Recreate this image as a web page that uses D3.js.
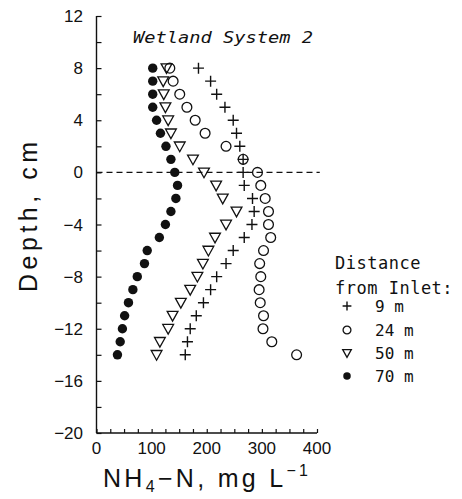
<!DOCTYPE html>
<html>
<head>
<meta charset="utf-8">
<script src="https://cdn.jsdelivr.net/npm/d3@7"></script>
<style>
  body { margin: 0; background: #fff; }
  svg { display: block; }
</style>
</head>
<body>
<div id="grafico"></div>
<script>
// profundidades (cm) y NH4-N (mg/L)
const profundidades = [8, 7, 6, 5, 4, 3, 2, 1, 0, -1, -2, -3, -4, -5, -6, -7, -8, -9, -10, -11, -12, -13, -14];
const dist9 = [185, 207, 218, 233, 248, 254, 260, 266, 266, 268, 283, 286, 282, 268, 248, 235, 218, 207, 194, 181, 170, 165, 161];
const dist24 = [133, 139, 151, 164, 179, 197, 235, 266, 292, 298, 306, 312, 312, 316, 303, 296, 298, 295, 297, 303, 302, 318, 363];
const dist50 = [127, 121, 122, 125, 130, 135, 151, 175, 195, 217, 229, 254, 235, 215, 203, 193, 183, 170, 153, 138, 130, 115, 109];
const dist70 = [102, 102, 102, 102, 109, 116, 126, 135, 142, 147, 144, 135, 125, 114, 92, 87, 74, 66, 58, 51, 47, 43, 38];

const ticksX = [0, 100, 200, 300, 400];
const ticksY = [12, 8, 4, 0, -4, -8, -12, -16, -20];
const leyenda = ["9 m", "24 m", "50 m", "70 m"];
const simbolos = ["cruz", "circulo", "triangulo", "punto"];

const width = 462, height = 499;
const svg = d3.select("#grafico").append("svg")
  .attr("width", width)
  .attr("height", height);

const x = d3.scaleLinear().domain([0, 400]).range([96.5, 317]);
const y = d3.scaleLinear().domain([-20, 12]).range([433, 16]);

const tinta = "#111";

// ejes (ticks hacia adentro)
const ejeY = d3.axisLeft(y).tickValues(d3.range(-20, 13, 2)).tickSize(-5).tickFormat("");
svg.append("g").attr("transform", `translate(${x(0)},0)`).call(ejeY);
const ejeX = d3.axisBottom(x).tickValues(d3.range(0, 401, 25)).tickSize(-4).tickFormat("");
svg.append("g").attr("transform", `translate(0,${y(-20)})`).call(ejeX);
svg.selectAll(".domain").remove();
svg.selectAll(".tick line").attr("stroke", tinta).attr("stroke-width", 1.2);

svg.append("line")
  .attr("x1", x(0)).attr("x2", x(0))
  .attr("y1", y(12)).attr("y2", y(-20))
  .attr("stroke", tinta).attr("stroke-width", 1.4);
svg.append("line")
  .attr("x1", x(0)).attr("x2", x(400))
  .attr("y1", y(-20)).attr("y2", y(-20))
  .attr("stroke", tinta).attr("stroke-width", 1.4);

svg.selectAll(".etiquetaY")
  .data(ticksY)
  .enter()
  .append("text")
  .attr("x", 83)
  .attr("y", d => y(d) + 6)
  .attr("text-anchor", "end")
  .style("font-family", "'Liberation Sans', Arial, sans-serif")
  .style("font-size", "17px")
  .attr("fill", tinta)
  .text(d => d < 0 ? "\u2212" + Math.abs(d) : d);

svg.selectAll(".etiquetaX")
  .data(ticksX)
  .enter()
  .append("text")
  .attr("x", d => x(d))
  .attr("y", 454)
  .attr("text-anchor", "middle")
  .style("font-family", "'Liberation Sans', Arial, sans-serif")
  .style("font-size", "17px")
  .attr("fill", tinta)
  .text(d => d);

// linea de referencia en 0 cm
svg.append("line")
  .attr("x1", x(0)).attr("x2", x(405))
  .attr("y1", y(0)).attr("y2", y(0))
  .attr("stroke", tinta)
  .attr("stroke-width", 1.2)
  .attr("stroke-dasharray", "6,4");

// titulos
svg.append("text")
  .attr("x", 133)
  .attr("y", 43)
  .attr("textLength", 180)
  .attr("lengthAdjust", "spacingAndGlyphs")
  .style("font-family", "'DejaVu Sans Mono', monospace")
  .style("font-style", "italic")
  .style("font-size", "16px")
  .attr("fill", tinta)
  .text("Wetland System 2");

svg.append("text")
  .attr("transform", "translate(37,217) rotate(-90)")
  .attr("text-anchor", "middle")
  .attr("textLength", 150)
  .style("font-family", "'Liberation Sans', Arial, sans-serif")
  .style("font-size", "25px")
  .attr("fill", tinta)
  .text("Depth,  cm");

const tituloX = svg.append("text")
  .attr("x", 103)
  .attr("y", 487)
  .attr("textLength", 205)
  .style("font-family", "'Liberation Sans', Arial, sans-serif")
  .style("font-size", "25px")
  .attr("fill", tinta);
tituloX.append("tspan").text("NH");
tituloX.append("tspan").attr("dy", 5).style("font-size", "16px").text("4");
tituloX.append("tspan").attr("dy", -5).text("\u2212N,  mg  L");
tituloX.append("tspan").attr("dy", -11).style("font-size", "16px").text("\u22121");

// marcadores
function marcador(g, tipo, escala) {
  const s = escala || 1;
  if (tipo === "cruz") {
    g.append("path")
      .attr("d", `M${-5.5 * s},0H${5.5 * s}M0,${-5.5 * s}V${5.5 * s}`)
      .attr("stroke", tinta).attr("stroke-width", 1.4).attr("fill", "none");
  } else if (tipo === "circulo") {
    g.append("circle").attr("r", 4.9 * s)
      .attr("stroke", tinta).attr("stroke-width", 1.3).attr("fill", "none");
  } else if (tipo === "triangulo") {
    g.append("path")
      .attr("d", `M${-5.4 * s},${-4.3 * s}L${5.4 * s},${-4.3 * s}L0,${5.4 * s}Z`)
      .attr("stroke", tinta).attr("stroke-width", 1.3).attr("fill", "none");
  } else {
    g.append("circle").attr("r", 4.7 * s).attr("fill", tinta);
  }
}

const series = [dist9, dist24, dist50, dist70];
series.forEach((valores, i) => {
  const pts = valores.map((v, j) => ({ v: v, p: profundidades[j] }));
  svg.append("g")
    .selectAll("g")
    .data(pts)
    .enter()
    .append("g")
    .attr("transform", d => `translate(${x(d.v)},${y(d.p)})`)
    .each(function () { marcador(d3.select(this), simbolos[i]); });
});

// leyenda
const fuenteLeyenda = "'DejaVu Sans Mono', monospace";
svg.append("text")
  .attr("x", 335).attr("y", 269)
  .style("font-family", fuenteLeyenda).style("font-size", "17px")
  .style("letter-spacing", "0.5px")
  .attr("fill", tinta)
  .text("Distance");
svg.append("text")
  .attr("x", 335).attr("y", 294)
  .style("font-family", fuenteLeyenda).style("font-size", "17px")
  .style("letter-spacing", "0.5px")
  .attr("fill", tinta)
  .text("from Inlet:");

const filaY = [306, 330, 353, 376];
leyenda.forEach((etq, i) => {
  const g = svg.append("g").attr("transform", `translate(347,${filaY[i]})`);
  marcador(g, simbolos[i], 0.8);
  svg.append("text")
    .attr("x", 375).attr("y", filaY[i] + 6)
    .style("font-family", fuenteLeyenda).style("font-size", "16px")
    .attr("fill", tinta)
    .text(etq);
});
</script>
</body>
</html>
